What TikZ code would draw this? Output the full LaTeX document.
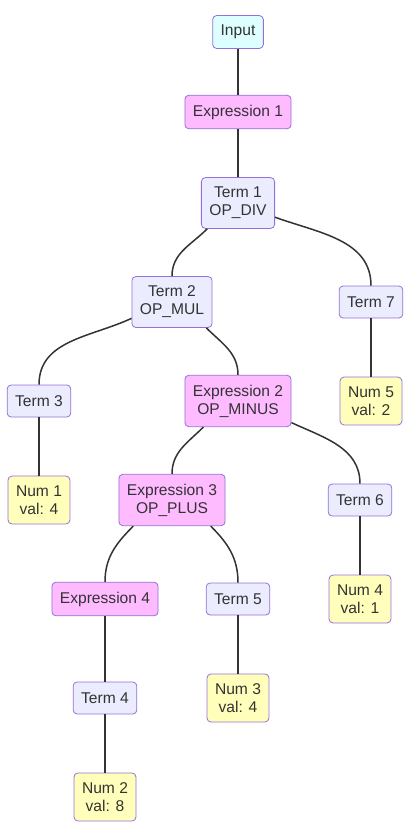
\documentclass[tikz,border=0pt]{standalone}
\usepackage{fontspec}
\setmainfont{Liberation Sans}
\definecolor{boxline}{HTML}{9370DB}
\definecolor{txt}{HTML}{333333}
\definecolor{linkcol}{HTML}{333333}
\definecolor{incol}{HTML}{DDFFFF}
\definecolor{exprcol}{HTML}{FFBBFF}
\definecolor{termcol}{HTML}{ECECFF}
\definecolor{numcol}{HTML}{FFFFBB}
\begin{document}
\begin{tikzpicture}[x=1pt,y=1pt,
  box/.style={draw=boxline,rounded corners=4pt,inner xsep=8pt,inner ysep=9.5pt,
    minimum height=32pt,align=center,text=txt,line width=0.8pt,
    font=\fontsize{15.6}{18}\selectfont},
  inbox/.style={box,fill=incol},
  exprbox/.style={box,fill=exprcol},
  termbox/.style={box,fill=termcol},
  numbox/.style={box,fill=numcol},
  link/.style={draw=linkcol,line width=1.5pt}]
\useasboundingbox (0,0) rectangle (418,-839);

\node[inbox]   (inp) at (238,-32)  {Input};
\node[exprbox] (e1)  at (238,-112) {Expression 1};
\node[termbox] (t1)  at (238,-203) {Term 1\\OP\_DIV};
\node[termbox] (t2)  at (172,-302) {Term 2\\OP\_MUL};
\node[termbox] (t7)  at (371,-302) {Term 7};
\node[termbox] (t3)  at (39,-401)  {Term 3};
\node[exprbox] (e2)  at (238,-401) {Expression 2\\OP\_MINUS};
\node[numbox]  (n5)  at (371,-401) {Num 5\\val: 2};
\node[numbox]  (n1)  at (39,-500)  {Num 1\\val: 4};
\node[exprbox] (e3)  at (172,-500) {Expression 3\\OP\_PLUS};
\node[termbox] (t6)  at (360,-500) {Term 6};
\node[exprbox] (e4)  at (105,-599) {Expression 4};
\node[termbox] (t5)  at (238,-599) {Term 5};
\node[numbox]  (n4)  at (360,-599) {Num 4\\val: 1};
\node[termbox] (t4)  at (105,-698) {Term 4};
\node[numbox]  (n3)  at (238,-698) {Num 3\\val: 4};
\node[numbox]  (n2)  at (105,-797) {Num 2\\val: 8};

\draw[link] (inp) -- (e1);
\draw[link] (e1) -- (t1);
\draw[link] (t1.-140) to[out=-135,in=90] (t2);
\draw[link] (t1.-21) to[out=-20,in=90] (t7);
\draw[link] (t2.-158) to[out=-155,in=90] (t3);
\draw[link] (t2.-37) to[out=-45,in=90] (e2);
\draw[link] (t7) -- (n5);
\draw[link] (t3) -- (n1);
\draw[link] (e2.-143) to[out=-135,in=90] (e3);
\draw[link] (e2.-22) to[out=-25,in=90] (t6);
\draw[link] (t6) -- (n4);
\draw[link] (e3.-146) to[out=-135,in=90] (e4);
\draw[link] (e3.-34) to[out=-45,in=90] (t5);
\draw[link] (t5) -- (n3);
\draw[link] (e4) -- (t4);
\draw[link] (t4) -- (n2);
\end{tikzpicture}
\end{document}
